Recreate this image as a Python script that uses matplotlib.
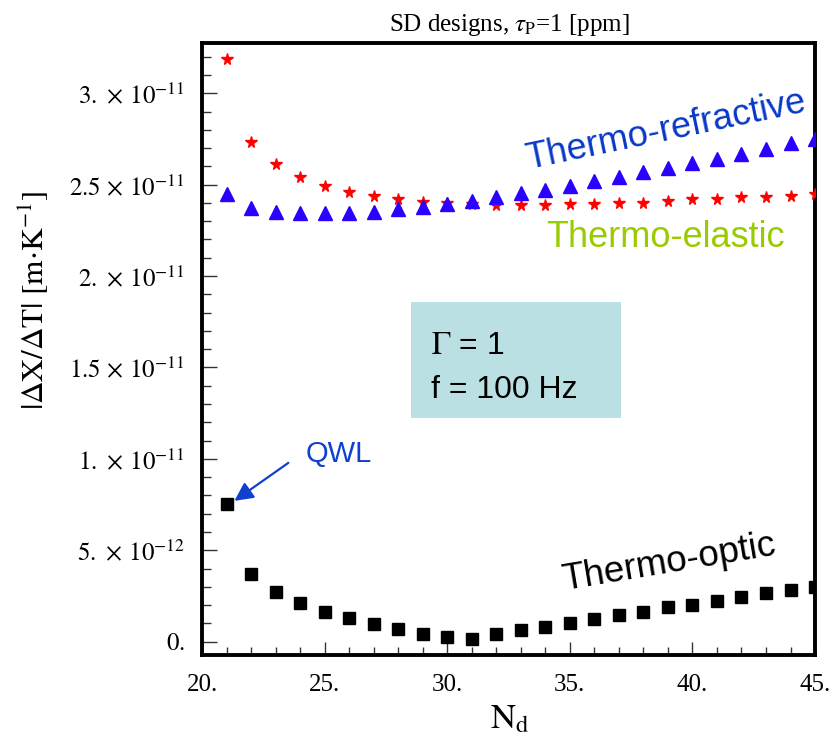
import matplotlib
matplotlib.use('Agg')
import matplotlib.pyplot as plt
from matplotlib.patches import Rectangle
from matplotlib.ticker import MultipleLocator

plt.rcParams['font.family'] = ['Liberation Serif', 'DejaVu Serif']
plt.rcParams['mathtext.fontset'] = 'stix'

# ---- data (values in units of 1e-12 m/K) ----
n_layers = list(range(21, 46))
thermo_elastic = [31.88, 27.35, 26.12, 25.44, 24.95, 24.62, 24.38, 24.22, 24.04, 23.98,
                  23.93, 23.88, 23.88, 23.89, 23.93, 23.94, 23.98, 24.02, 24.12, 24.20,
                  24.23, 24.31, 24.34, 24.40, 24.49]
thermo_refractive = [24.47, 23.74, 23.52, 23.44, 23.44, 23.44, 23.52, 23.65, 23.80, 23.96,
                     24.11, 24.31, 24.53, 24.71, 24.93, 25.20, 25.40, 25.68, 25.90, 26.17,
                     26.41, 26.66, 26.95, 27.26, 27.50]
thermo_optic = [7.52, 3.69, 2.70, 2.10, 1.61, 1.31, 0.95, 0.71, 0.40, 0.24,
                0.13, 0.42, 0.62, 0.82, 1.04, 1.23, 1.44, 1.61, 1.88, 2.01,
                2.24, 2.43, 2.65, 2.81, 3.01]
scale = 1e-12

xtick_values = [20, 25, 30, 35, 40, 45]
xtick_labels = ['20.', '25.', '30.', '35.', '40.', '45.']
ytick_values = [0, 5e-12, 1e-11, 1.5e-11, 2e-11, 2.5e-11, 3e-11]
ytick_labels = [r'$0.$', r'$5.\,\times\,10^{-12}$', r'$1.\,\times\,10^{-11}$',
                r'$1.5\,\times\,10^{-11}$', r'$2.\,\times\,10^{-11}$',
                r'$2.5\,\times\,10^{-11}$', r'$3.\,\times\,10^{-11}$']

fig = plt.figure(figsize=(8.3, 7.36), dpi=100)
ax = fig.add_axes([0.2434, 0.1101, 0.7386, 0.8315])

ax.plot(n_layers, [v * scale for v in thermo_elastic], linestyle='none', marker='*',
        ms=8.5, color='#ff0000', mec='#ff0000', zorder=3)
ax.plot(n_layers, [v * scale for v in thermo_refractive], linestyle='none', marker='^',
        ms=9.5, color='#2a00ff', mec='#2a00ff', zorder=4)
ax.plot(n_layers, [v * scale for v in thermo_optic], linestyle='none', marker='s',
        ms=9, color='black', zorder=4)

ax.set_xlim(20, 45)
ax.set_ylim(-0.73e-12, 32.75e-12)
ax.set_xticks(xtick_values, labels=xtick_labels)
ax.set_yticks(ytick_values, labels=ytick_labels)
ax.xaxis.set_minor_locator(MultipleLocator(1))
ax.yaxis.set_minor_locator(MultipleLocator(1e-12))
ax.tick_params(which='both', direction='in', top=False, right=False, width=1.0, color='#333333')
ax.tick_params(axis='y', which='major', length=10.5, pad=12.5, labelsize=18)
ax.tick_params(axis='y', which='minor', length=6.5)
ax.tick_params(axis='x', which='major', length=9.5, pad=14, labelsize=18)
ax.tick_params(axis='x', which='minor', length=6)
for sp in ax.spines.values():
    sp.set_linewidth(2.8)

# titles and labels
fig.text(0.6139, 0.9583, r'SD designs, $\tau_{\mathrm{P}}$=1 [ppm]', ha='center', va='baseline',
         fontsize=18)
fig.text(0.041, 0.5924, r'$|\Delta\mathrm{X}/\Delta\mathrm{T}|\ [\mathrm{m}{\cdot}\mathrm{K}^{-1}]$',
         rotation=90, ha='center', va='center', fontsize=22.5)
fig.text(0.6145, 0.0109, r'$\mathrm{N}_{\mathrm{d}}$', ha='center', va='baseline', fontsize=25)

sans = ['Liberation Sans', 'DejaVu Sans']
ax.text(38.92, 27.94e-12, 'Thermo-refractive', rotation=11.7, rotation_mode='anchor',
        ha='center', va='center', fontsize=26, color='#0838c8', family=sans)
ax.text(34.04, 21.59e-12, 'Thermo-elastic', ha='left', va='baseline', fontsize=26,
        color='#99cc00', family=sans)
ax.text(39.04, 4.31e-12, 'Thermo-optic', rotation=9.5, rotation_mode='anchor',
        ha='center', va='center', fontsize=26.5, color='black', family=sans)

ax.add_patch(Rectangle((0.341, 0.387), 0.342, 0.190, transform=ax.transAxes,
                       facecolor='#bbe0e3', edgecolor='none', zorder=1))
ax.text(0.3735, 0.4918, r'$\Gamma$ = 1', transform=ax.transAxes, ha='left', va='baseline',
        fontsize=23, family=sans, zorder=2)
ax.text(0.3735, 0.420, 'f = 100 Hz', transform=ax.transAxes, ha='left', va='baseline',
        fontsize=23, family=sans, zorder=2)

ax.text(24.21, 9.83e-12, 'QWL', ha='left', va='baseline', fontsize=21, color='#1040d0',
        family=sans)
ax.annotate('', xy=(21.32, 7.70e-12), xytext=(23.52, 9.78e-12),
            arrowprops=dict(arrowstyle='-|>,head_length=0.8,head_width=0.4', color='#1040d0',
                            lw=1.6, shrinkA=0, shrinkB=0, mutation_scale=14))

fig.savefig('out.png', dpi=100)
